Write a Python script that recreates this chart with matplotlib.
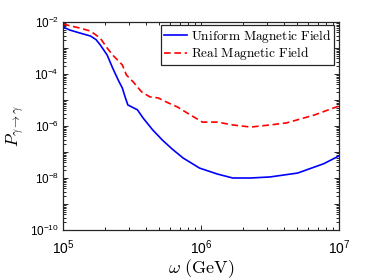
import numpy as np
import matplotlib
matplotlib.use('Agg')
import matplotlib.pyplot as plt
from matplotlib.ticker import FixedLocator, LogLocator, FuncFormatter, NullFormatter
from matplotlib.font_manager import FontProperties

plt.rcParams['font.family'] = ['Liberation Sans', 'DejaVu Sans']

# values, as log10(omega / GeV) and log10(P)
log_w_uniform = [5.00, 5.05, 5.12, 5.20, 5.24, 5.27, 5.32, 5.36, 5.40, 5.43, 5.45, 5.47, 5.54, 5.58,
                 5.65, 5.72, 5.79, 5.87, 5.99, 6.12, 6.23, 6.36, 6.50, 6.70, 6.89, 7.00]
log_p_uniform = [-2.19, -2.31, -2.42, -2.54, -2.68, -2.88, -3.27, -3.77, -4.23, -4.54, -4.88, -5.19,
                 -5.38, -5.69, -6.15, -6.54, -6.88, -7.23, -7.62, -7.85, -8.00, -8.00, -7.96, -7.81,
                 -7.45, -7.15]

log_w_real = [5.00, 5.12, 5.20, 5.27, 5.32, 5.36, 5.43, 5.46, 5.51, 5.57, 5.63, 5.69,
              5.75, 5.83, 5.90, 6.01, 6.12, 6.23, 6.36, 6.50, 6.62, 6.82, 7.00]
log_p_real = [-2.08, -2.23, -2.35, -2.62, -3.00, -3.27, -3.65, -4.04, -4.31, -4.69, -4.88, -4.92,
              -5.08, -5.27, -5.50, -5.85, -5.85, -5.96, -6.04, -5.96, -5.88, -5.58, -5.23]

labels = ['Uniform Magnetic Field', 'Real Magnetic Field']

w_u = 10.0 ** np.array(log_w_uniform)
p_u = 10.0 ** np.array(log_p_uniform)
w_r = 10.0 ** np.array(log_w_real)
p_r = 10.0 ** np.array(log_p_real)

fig = plt.figure(figsize=(3.74, 2.8), dpi=100)
ax = fig.add_axes([0.1684, 0.1786, 0.738, 0.7428])

ax.loglog(w_u, p_u, color='#0000ff', lw=1.2, label=r'$\mathrm{%s}$' % labels[0].replace(' ', r'\ '))
ax.loglog(w_r, p_r, color='#ff0000', lw=1.2, ls=(0, (4, 2.2)),
          label=r'$\mathrm{%s}$' % labels[1].replace(' ', r'\ '))

ax.set_xlim(1e5, 1e7)
ax.set_ylim(1e-10, 1e-2)

ax.yaxis.set_major_locator(FixedLocator(10.0 ** np.arange(-10, -1)))
ax.yaxis.set_minor_locator(LogLocator(base=10, subs=np.arange(2, 10), numticks=20))
ax.yaxis.set_minor_formatter(NullFormatter())
ax.yaxis.set_major_formatter(FuncFormatter(
    lambda v, p: r'$\mathregular{10^{%d}}$' % round(np.log10(v)) if round(np.log10(v)) % 2 == 0 else ''))
ax.xaxis.set_major_locator(FixedLocator([1e5, 1e6, 1e7]))
ax.xaxis.set_minor_locator(LogLocator(base=10, subs=np.arange(2, 10), numticks=10))
ax.xaxis.set_minor_formatter(NullFormatter())
ax.xaxis.set_major_formatter(FuncFormatter(lambda v, p: r'$\mathregular{10^{%d}}$' % round(np.log10(v))))

ax.tick_params(which='both', direction='in', top=True, right=True, color='#262626', width=0.7)
ax.tick_params(which='major', length=3.5)
ax.tick_params(which='minor', length=2)
ax.tick_params(axis='y', labelsize=8.5, pad=3)
ax.tick_params(axis='x', labelsize=10, pad=6)
for s in ax.spines.values():
    s.set_linewidth(0.9)
    s.set_color('#262626')

ax.set_xlabel(r'$\omega\ \mathrm{(GeV)}$', fontsize=13, math_fontfamily='cm', labelpad=0.5)
ax.set_ylabel(r'$P_{\gamma\rightarrow\gamma}$', fontsize=12.5, math_fontfamily='cm', labelpad=2)

leg = ax.legend(loc='upper right', bbox_to_anchor=(0.982, 0.985), fancybox=False,
                edgecolor='#262626', framealpha=1, borderpad=0.2, labelspacing=0.05,
                handlelength=1.7, handletextpad=0.3, borderaxespad=0,
                prop=FontProperties(size=9.6, math_fontfamily='cm'))
leg.get_frame().set_linewidth(0.9)

fig.savefig('out.png', dpi=100)
